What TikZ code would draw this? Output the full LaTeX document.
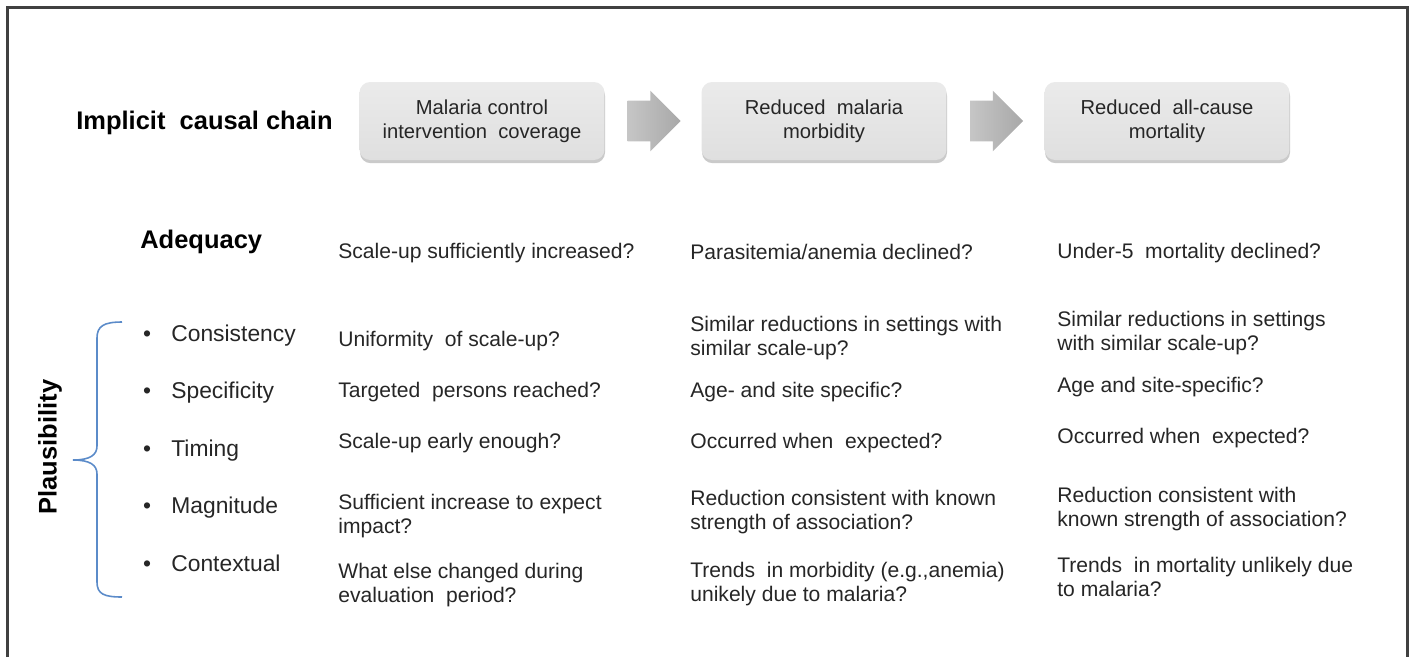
\documentclass[tikz,border=0pt]{standalone}
\usepackage{fontspec}
\setmainfont{Liberation Sans}
\usetikzlibrary{shapes.arrows,shadows,calc}

\definecolor{inkgray}{HTML}{262626}
\definecolor{bracecol}{HTML}{5B8BC9}
\definecolor{framecol}{HTML}{404040}

\tikzset{
  chainbox/.style={rounded corners=6pt, top color=gray!16, bottom color=gray!25,
    minimum width=4.9cm, minimum height=1.56cm, align=center, text=inkgray,
    font=\fontsize{11.5}{13.6}\selectfont,
    drop shadow={shadow xshift=0.3pt, shadow yshift=-1.8pt, opacity=0.35, fill=black!60}},
  blockarrow/.style={single arrow, inner xsep=0pt, inner ysep=0.4cm,
    minimum height=1.06cm, single arrow head extend=0.2cm,
    left color=gray!45, right color=gray!68},
  headtext/.style={anchor=west, inner sep=0pt, text=black,
    font=\fontsize{14.5}{16}\selectfont\bfseries},
  rowlabel/.style={anchor=base west, inner sep=0pt, text=inkgray,
    font=\fontsize{13}{15}\selectfont},
  celltext/.style={anchor=west, inner sep=0pt, align=left, text=inkgray,
    font=\fontsize{12}{13.6}\selectfont}
}

\begin{document}
\begin{tikzpicture}[x=0.02cm, y=-0.02cm]
  \useasboundingbox (0,0) rectangle (1410,657);

  % Frame
  \draw [framecol, line width=1.2pt] (7.5,657) -- (7.5,7.5) -- (1407.5,7.5) -- (1407.5,657);

  % Causal chain
  \node [headtext] (chain) at (76,123) {Implicit\ \ causal chain};
  \node [chainbox] (cover) at (482,121) {Malaria control\\intervention\ \ coverage};
  \node [chainbox] (morb) at (824,121) {Reduced\ \ malaria\\morbidity};
  \node [chainbox] (mort) at (1167,121) {Reduced\ \ all-cause\\mortality};
  \node [blockarrow] (arr1) at ($(cover.east)!0.5!(morb.west)+(-9,0)$) {};
  \node [blockarrow] (arr2) at ($(morb.east)!0.5!(mort.west)+(-9,0)$) {};

  % Adequacy
  \node [headtext] (adeq) at (140,242) {Adequacy};
  \node [celltext] (adeq1) at (338,253) {Scale-up sufficiently increased?};
  \node [celltext] (adeq2) at (690,252) {Parasitemia/anemia declined?};
  \node [celltext] (adeq3) at (1057,253) {Under-5\ \ mortality declined?};

  % Plausibility criteria
  \node [headtext, anchor=center, rotate=90] (plaus) at (50,447) {Plausibility};
  \draw [bracecol, line width=0.9pt]
    (122,322) .. controls (104,322) and (97,326) .. (97,338) -- (97,446)
    .. controls (97,455) and (90,460) .. (73,460)
    .. controls (90,460) and (97,465) .. (97,474) -- (97,582)
    .. controls (97,594) and (104,597) .. (122,597);
  \foreach \crit [count=\i, evaluate=\i as \y using 341+57.5*(\i-1)]
      in {Consistency, Specificity, Timing, Magnitude, Contextual} {
    \node [rowlabel, anchor=base] (dot\i) at (147,\y) {\textbullet};
    \node [rowlabel] (crit\i) at (171,\y) {\crit};
  }

  % Consistency
  \node [celltext] (cons1) at (338,341) {Uniformity\ \ of scale-up?};
  \node [celltext] (cons2) at (690,338) {Similar reductions in settings with\\similar scale-up?};
  \node [celltext] (cons3) at (1057,333) {Similar reductions in settings\\with similar scale-up?};

  % Specificity
  \node [celltext] (spec1) at (338,392) {Targeted\ \ persons reached?};
  \node [celltext] (spec2) at (690,392) {Age- and site specific?};
  \node [celltext] (spec3) at (1057,387) {Age and site-specific?};

  % Timing
  \node [celltext] (time1) at (338,443) {Scale-up early enough?};
  \node [celltext] (time2) at (690,443) {Occurred when\ \ expected?};
  \node [celltext] (time3) at (1057,438) {Occurred when\ \ expected?};

  % Magnitude
  \node [celltext] (magn1) at (338,516) {Sufficient increase to expect\\impact?};
  \node [celltext] (magn2) at (690,512) {Reduction consistent with known\\strength of association?};
  \node [celltext] (magn3) at (1057,509) {Reduction consistent with\\known strength of association?};

  % Contextual
  \node [celltext] (cont1) at (338,585) {What else changed during\\evaluation\ \ period?};
  \node [celltext] (cont2) at (690,584) {Trends\ \ in morbidity (e.g.,anemia)\\unikely due to malaria?};
  \node [celltext] (cont3) at (1057,577) {Trends\ \ in mortality unlikely due\\to malaria?};
\end{tikzpicture}
\end{document}
